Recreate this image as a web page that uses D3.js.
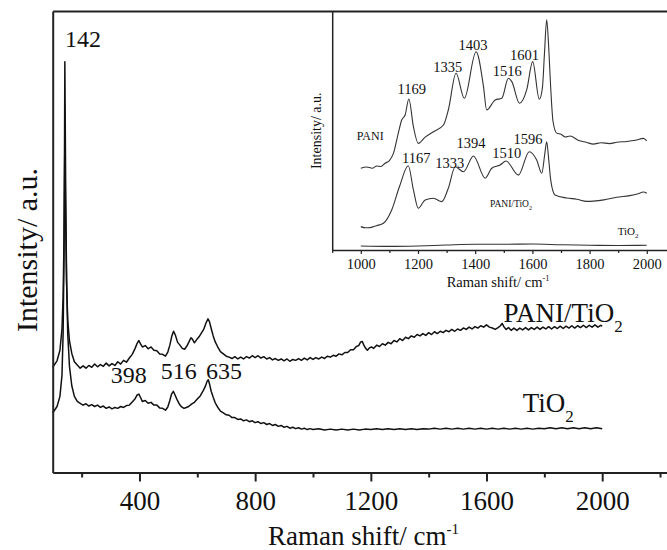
<!DOCTYPE html>
<html>
<head>
<meta charset="utf-8">
<script src="https://cdn.jsdelivr.net/npm/d3@7"></script>
<style>
  body { margin: 0; background: #fff; }
  svg text { font-family: "Liberation Serif", "Times New Roman", serif; fill: #111; }
  .axis path, .axis line { stroke: #222; }
</style>
</head>
<body>
<div id="chart"></div>
<script>
// ---- main spectra: [Raman shift cm-1, intensity a.u.] ----
const tio2Main = [
  [100, 12.9], [115, 14.3], [125, 16.5], [132, 21], [136, 30], [139, 46], [141, 72], [142, 89], [143, 80], [145, 60], [148, 42], [152, 30], [158, 23], [166, 18.8], [175, 16.5], [185, 15.4], [195, 15.0],
  [205, 14.6], [215, 14.9], [225, 14.4], [235, 14.7], [245, 14.3], [255, 14.6], [265, 14.1], [275, 14.4], [285, 13.9], [295, 14.2], [305, 13.8], [315, 14.1], [325, 13.9], [335, 14.3], [345, 14.1], [355, 14.5],
  [365, 14.6], [375, 15.3], [385, 16.0], [392, 16.8], [398, 17.0], [404, 16.2], [410, 15.4], [420, 15.6], [430, 15.0], [440, 15.2], [450, 14.6], [460, 14.6], [470, 14.0], [480, 13.9], [490, 13.5], [498, 14.2],
  [505, 15.6], [511, 17.0], [517, 17.6], [523, 16.8], [530, 15.8], [538, 14.8], [546, 14.2], [554, 13.9], [562, 14.1], [570, 14.3], [580, 14.8], [590, 15.2], [600, 15.9], [610, 16.6], [620, 17.7], [628, 18.7],
  [634, 19.8], [638, 20.1], [643, 19.0], [648, 17.6], [655, 16.3], [662, 15.1], [670, 14.2], [680, 13.3], [690, 12.9], [700, 12.5], [710, 12.4], [720, 11.9], [730, 11.9], [740, 11.5], [750, 11.6], [760, 11.2],
  [770, 11.4], [780, 11.0], [790, 11.2], [800, 10.8], [810, 11.0], [820, 10.6], [830, 10.8], [840, 10.4], [850, 10.6], [860, 10.2], [870, 10.4], [880, 10.0], [890, 10.2], [900, 9.8], [910, 10.0], [920, 9.6],
  [930, 9.8], [940, 9.5], [950, 9.7], [960, 9.4], [970, 9.6], [980, 9.3], [990, 9.5], [1000, 9.3], [1020, 9.5], [1040, 9.2], [1060, 9.4], [1080, 9.2], [1100, 9.4], [1120, 9.2], [1140, 9.4], [1160, 9.2],
  [1180, 9.4], [1200, 9.3], [1220, 9.5], [1240, 9.3], [1260, 9.5], [1280, 9.3], [1300, 9.5], [1320, 9.3], [1340, 9.5], [1360, 9.3], [1380, 9.5], [1400, 9.4], [1420, 9.6], [1440, 9.4], [1460, 9.6], [1480, 9.4],
  [1500, 9.6], [1520, 9.4], [1540, 9.6], [1560, 9.4], [1580, 9.6], [1600, 9.4], [1620, 9.6], [1640, 9.4], [1660, 9.6], [1680, 9.4], [1700, 9.6], [1720, 9.4], [1740, 9.6], [1760, 9.4], [1780, 9.6], [1800, 9.5],
  [1820, 9.7], [1840, 9.5], [1860, 9.7], [1880, 9.5], [1900, 9.7], [1920, 9.5], [1940, 9.7], [1960, 9.5], [1980, 9.7], [2000, 9.5]
];

const paniTio2Main = [
  [100, 22.8], [115, 24.2], [125, 26.5], [132, 31], [136, 38], [139, 50], [141, 64], [142, 71.6], [143, 66], [145, 54], [148, 41], [152, 33], [158, 28.5], [166, 25.8], [175, 24], [185, 23.3], [195, 22.6],
  [205, 23.1], [215, 22.6], [225, 23.2], [235, 22.8], [245, 23.5], [255, 22.9], [265, 23.4], [275, 23.0], [285, 23.7], [295, 23.1], [305, 23.6], [315, 23.2], [325, 24.0], [335, 23.5], [345, 24.3], [355, 23.9],
  [365, 24.8], [375, 25.6], [385, 26.9], [392, 28.0], [398, 28.6], [404, 27.8], [410, 27.2], [420, 27.5], [430, 26.8], [440, 27.2], [450, 26.5], [460, 26.4], [470, 25.7], [480, 25.6], [490, 25.2], [498, 26.1],
  [505, 27.6], [512, 29.6], [518, 30.6], [524, 29.8], [532, 28.2], [540, 27.6], [548, 26.9], [556, 26.7], [564, 27.4], [572, 28.4], [578, 29.2], [583, 28.9], [590, 28.1], [598, 28.8], [606, 29.4], [614, 30.2],
  [622, 31.0], [630, 32.4], [637, 33.3], [642, 32.7], [648, 31.2], [655, 29.6], [662, 28.3], [670, 27.3], [680, 26.2], [690, 25.7], [700, 25.2], [710, 25.0], [720, 24.7], [730, 25.1], [740, 24.6], [750, 25.0],
  [760, 24.6], [770, 25.1], [780, 24.8], [790, 25.3], [800, 24.9], [810, 25.3], [820, 24.8], [830, 25.1], [840, 24.6], [850, 24.9], [860, 24.4], [870, 24.7], [880, 24.3], [890, 24.6], [900, 24.2], [910, 24.6],
  [920, 24.1], [930, 24.5], [940, 24.3], [950, 24.7], [960, 24.3], [970, 24.8], [980, 24.4], [990, 24.9], [1000, 24.5], [1010, 24.9], [1020, 24.6], [1030, 25.0], [1040, 24.7], [1050, 25.2], [1060, 25.0],
  [1070, 25.4], [1080, 25.2], [1090, 25.7], [1100, 25.5], [1110, 26.0], [1120, 26.0], [1130, 26.6], [1140, 26.6], [1150, 27.3], [1158, 27.5], [1165, 28.3], [1170, 28.4], [1176, 27.6], [1182, 26.9], [1188, 26.5],
  [1195, 27.0], [1202, 27.2], [1210, 26.9], [1220, 27.6], [1230, 27.3], [1240, 27.9], [1250, 27.6], [1260, 28.2], [1270, 27.9], [1280, 28.6], [1290, 28.3], [1300, 29.0], [1310, 28.6], [1320, 29.3], [1330, 29.0],
  [1340, 29.6], [1350, 29.3], [1360, 29.9], [1370, 29.6], [1380, 30.1], [1390, 29.7], [1400, 30.3], [1410, 29.9], [1420, 30.5], [1430, 30.1], [1440, 30.6], [1450, 30.3], [1460, 30.8], [1470, 30.5], [1480, 31.0],
  [1490, 30.6], [1500, 31.1], [1510, 30.8], [1520, 31.3], [1530, 31.0], [1540, 31.5], [1550, 31.1], [1560, 31.6], [1570, 31.3], [1580, 31.8], [1590, 31.5], [1600, 32.0], [1610, 31.5], [1620, 31.3], [1630, 31.0],
  [1640, 31.4], [1648, 31.8], [1654, 32.3], [1660, 31.6], [1668, 31.0], [1676, 31.4], [1685, 30.8], [1695, 31.3], [1705, 30.8], [1715, 31.3], [1725, 30.9], [1735, 31.4], [1745, 30.9], [1755, 31.4], [1765, 31.0],
  [1775, 31.5], [1785, 31.0], [1795, 31.5], [1805, 31.1], [1815, 31.6], [1825, 31.1], [1835, 31.6], [1845, 31.2], [1855, 31.7], [1865, 31.2], [1875, 31.7], [1885, 31.3], [1895, 31.8], [1905, 31.3], [1915, 31.8],
  [1925, 31.4], [1935, 31.9], [1945, 31.4], [1955, 31.9], [1965, 31.5], [1975, 32.0], [1985, 31.5], [1995, 31.9], [2000, 31.7]
];

// ---- inset spectra ----
const paniInset = [
  [1000, 34.3], [1020, 34.8], [1040, 34.3], [1056, 35.2], [1070, 35.0], [1085, 36.4], [1100, 37.5], [1114, 40.5], [1131, 48.9], [1143, 54.5], [1155, 56.6], [1168, 63.3], [1184, 51.7], [1201, 44.7], [1225, 47.3],
  [1254, 49.6], [1289, 52.4], [1306, 58.7], [1333, 74.1], [1362, 63.6], [1403, 83.1], [1429, 68.5], [1440, 58.7], [1470, 62.9], [1493, 63.6], [1516, 72.0], [1528, 70.6], [1555, 61.5], [1580, 67.1], [1601, 79.0],
  [1624, 63.2], [1635, 68], [1642, 82], [1650, 96.5], [1657, 85], [1664, 68], [1672, 54], [1685, 49], [1700, 48.5], [1715, 47.4], [1732, 47.8], [1760, 46.0], [1790, 45.1], [1813, 44.4], [1840, 45.0],
  [1870, 44.6], [1895, 45.2], [1930, 45.5], [1960, 46.0], [1988, 46.8], [2000, 45.8]
];

const paniTio2Inset = [
  [1000, 9.8], [1015, 9.3], [1033, 9.4], [1055, 10.2], [1079, 11.2], [1108, 16.8], [1135, 26.5], [1166, 35.3], [1184, 25.2], [1201, 17.5], [1225, 21.0], [1254, 21.7], [1283, 20.3], [1306, 25.9], [1330, 34.9],
  [1359, 32.8], [1394, 39.4], [1435, 30.1], [1458, 34.3], [1487, 35.6], [1508, 37.3], [1551, 31.4], [1589, 41.2], [1615, 37.7], [1633, 32.2], [1643, 40], [1650, 45.4], [1657, 38], [1664, 29.4], [1679, 23.1],
  [1720, 21.8], [1755, 21.3], [1790, 20.4], [1813, 20.5], [1850, 21.0], [1895, 22.1], [1940, 22.8], [1970, 23.6], [1988, 24.3], [2000, 23.8]
];

const tio2Inset = [[1000, 1.7], [1100, 1.5], [1200, 1.7], [1300, 2.1], [1400, 2.4], [1500, 2.4], [1600, 2.5], [1700, 2.2], [1800, 2.0], [1900, 1.9], [2000, 2.0]];

// ---- ticks ----
const mainMajorTicks = [400, 800, 1200, 1600, 2000];
const mainMinorTicks = [200, 600, 1000, 1400, 1800, 2200];
const insetMajorTicks = [1000, 1200, 1400, 1600, 1800, 2000];
const insetMinorTicks = [900, 1100, 1300, 1500, 1700, 1900, 2100];

// ---- peak labels: [text, shift, intensity] ----
const mainPeakLabels = [["142", 205, 92.2], ["398", 363, 19.3], ["516", 536, 20.2], ["635", 692, 20.2]];
const insetPeakLabels = [["1169", 1178, 65.4], ["1335", 1304, 74.8], ["1403", 1392, 83.9], ["1516", 1512, 73.0], ["1601", 1572, 79.7],
                         ["1167", 1194, 36.4], ["1333", 1311, 34.3], ["1394", 1385, 42.6], ["1510", 1510, 38.4], ["1596", 1585, 44.4]];

const W = 667, H = 550;

const svg = d3.select("#chart").append("svg")
    .attr("width", W)
    .attr("height", H);

// Scales
const x = d3.scaleLinear().domain([100, 2250]).range([52.7, 674.5]);
const y = d3.scaleLinear().domain([0, 100]).range([472.5, 11]);

const xi = d3.scaleLinear().domain([900, 2200]).range([332.2, 704]);
const yi = d3.scaleLinear().domain([0, 100]).range([250, 11.5]);

// ---------- main plot ----------
const mainLine = d3.line()
    .x(d => x(d[0]))
    .y(d => y(d[1]));

[tio2Main, paniTio2Main].forEach(series => {
    svg.append("path")
        .datum(series)
        .attr("fill", "none")
        .attr("stroke", "#111")
        .attr("stroke-width", 1.5)
        .attr("stroke-linejoin", "round")
        .attr("d", mainLine);
});

// bottom axis: minor then major ticks
svg.append("g")
    .attr("class", "axis")
    .attr("transform", `translate(0, ${y(0)})`)
    .call(d3.axisBottom(x).tickValues(mainMinorTicks).tickSize(5).tickSizeOuter(0).tickFormat(""))
    .call(g => g.select(".domain").remove())
    .selectAll("line").attr("stroke-width", 2);

svg.append("g")
    .attr("class", "axis")
    .attr("transform", `translate(0, ${y(0)})`)
    .call(d3.axisBottom(x).tickValues(mainMajorTicks).tickSize(9).tickSizeOuter(0).tickPadding(9).tickFormat(d3.format("d")))
    .call(g => g.select(".domain").attr("stroke-width", 2))
    .call(g => g.selectAll("line").attr("stroke-width", 2))
    .call(g => g.selectAll("text").attr("font-size", 27));

// left axis (no ticks) and top frame
svg.append("g")
    .attr("class", "axis")
    .attr("transform", `translate(${x(100)}, 0)`)
    .call(d3.axisLeft(y).tickValues([]).tickSizeOuter(0))
    .select(".domain").attr("stroke-width", 2);

svg.append("g")
    .attr("class", "axis")
    .attr("transform", `translate(0, ${y(100)})`)
    .call(d3.axisTop(x).tickValues([]).tickSizeOuter(0))
    .select(".domain").attr("stroke-width", 2);

// axis titles
svg.append("text")
    .attr("x", (x(100) + x(2250)) / 2)
    .attr("y", 545)
    .attr("text-anchor", "middle")
    .attr("font-size", 27)
    .text("Raman shift/ cm")
    .append("tspan").attr("dy", -11).attr("font-size", 15).text("-1");

svg.append("text")
    .attr("transform", "translate(37, 250) rotate(-90)")
    .attr("text-anchor", "middle")
    .attr("font-size", 30)
    .text("Intensity/ a.u.");

// peak labels
svg.selectAll(".peak-label")
    .data(mainPeakLabels)
    .join("text")
    .attr("class", "peak-label")
    .attr("x", d => x(d[1]))
    .attr("y", d => y(d[2]))
    .attr("text-anchor", "middle")
    .attr("font-size", 24)
    .text(d => d[0]);

// series labels with subscripts
function subLabel(g, px, py, main, sub, size, subSize, drop) {
    const t = g.append("text")
        .attr("x", px)
        .attr("y", py)
        .attr("font-size", size)
        .text(main);
    t.append("tspan").attr("dy", drop).attr("font-size", subSize).text(sub);
    return t;
}
subLabel(svg, x(1659), y(32.7), "PANI/TiO", "2", 27, 17, 10);
subLabel(svg, x(1725), y(13.2), "TiO", "2", 27, 17, 10);

// ---------- inset ----------
const inset = svg.append("g").attr("class", "inset");

const insetLine = d3.line()
    .x(d => xi(d[0]))
    .y(d => yi(d[1]))
    .curve(d3.curveMonotoneX);

[paniInset, paniTio2Inset, tio2Inset].forEach(series => {
    inset.append("path")
        .datum(series)
        .attr("fill", "none")
        .attr("stroke", "#333")
        .attr("stroke-width", 1.1)
        .attr("d", insetLine);
});

inset.append("g")
    .attr("class", "axis")
    .attr("transform", `translate(0, ${yi(0)})`)
    .call(d3.axisBottom(xi).tickValues(insetMinorTicks).tickSize(3).tickSizeOuter(0).tickFormat(""))
    .call(g => g.select(".domain").remove())
    .selectAll("line").attr("stroke-width", 1.2);

inset.append("g")
    .attr("class", "axis")
    .attr("transform", `translate(0, ${yi(0)})`)
    .call(d3.axisBottom(xi).tickValues(insetMajorTicks).tickSize(4).tickSizeOuter(0).tickPadding(5).tickFormat(d3.format("d")))
    .call(g => g.select(".domain").attr("stroke-width", 1.5))
    .call(g => g.selectAll("line").attr("stroke-width", 1.2))
    .call(g => g.selectAll("text").attr("font-size", 14.5));

inset.append("g")
    .attr("class", "axis")
    .attr("transform", `translate(${xi(900)}, 0)`)
    .call(d3.axisLeft(yi).tickValues([]).tickSizeOuter(0))
    .select(".domain").attr("stroke-width", 1.5);

inset.append("text")
    .attr("x", (xi(900) + 664) / 2)
    .attr("y", 287)
    .attr("text-anchor", "middle")
    .attr("font-size", 14.5)
    .text("Raman shift/ cm")
    .append("tspan").attr("dy", -6).attr("font-size", 8.5).text("-1");

inset.append("text")
    .attr("transform", `translate(321, ${(yi(0) + yi(100)) / 2}) rotate(-90)`)
    .attr("text-anchor", "middle")
    .attr("font-size", 14)
    .text("Intensity/ a.u.");

inset.selectAll(".inset-label")
    .data(insetPeakLabels)
    .join("text")
    .attr("class", "inset-label")
    .attr("x", d => xi(d[1]))
    .attr("y", d => yi(d[2]))
    .attr("text-anchor", "middle")
    .attr("font-size", 14.5)
    .text(d => d[0]);

inset.append("text")
    .attr("x", xi(986))
    .attr("y", yi(46.1))
    .attr("font-size", 12)
    .text("PANI");
subLabel(inset, xi(1452), yi(18.2), "PANI/TiO", "2", 9.5, 6, 3);
subLabel(inset, xi(1898), yi(6.3), "TiO", "2", 11, 7, 3);
</script>
</body>
</html>
